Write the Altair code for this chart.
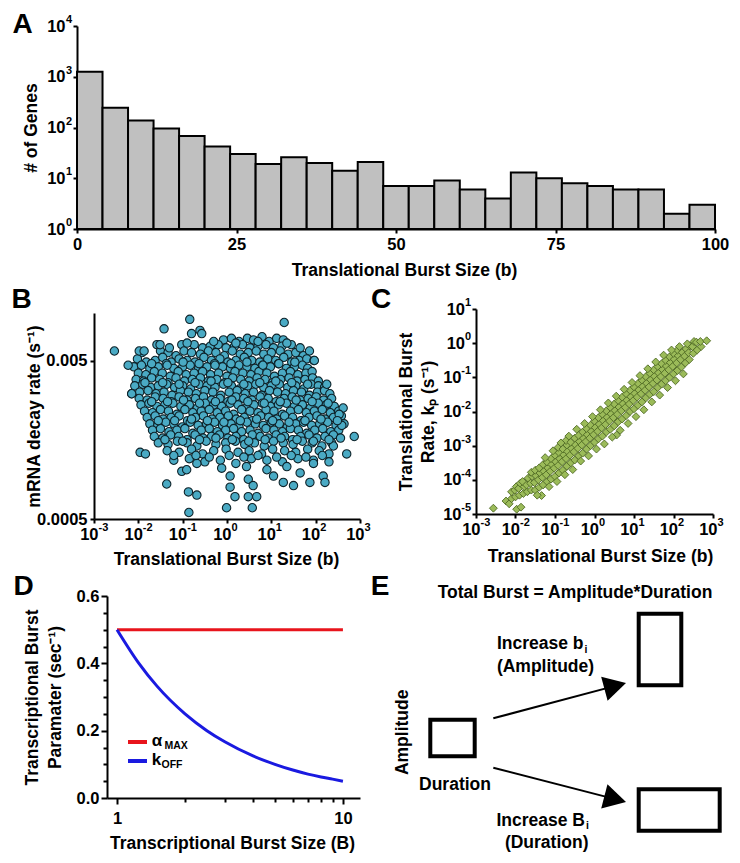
import altair as alt
import pandas as pd

W, H = 724, 847          # whole drawing; positions below are in drawing pixels
FONT = "Liberation Sans"
INK = "black"
TICK_FS = 16.5
TITLE_FS = 17.5
EXP_FS = 11

# ---------------- Panel A : histogram of translational burst size ----------------
A_BIN_START = [0, 4, 8, 12, 16, 20, 24, 28, 32, 36, 40, 44, 48, 52, 56, 60, 64, 68, 72, 76, 80, 84, 88, 92, 96]
A_BIN_END = [4, 8, 12, 16, 20, 24, 28, 32, 36, 40, 44, 48, 52, 56, 60, 64, 68, 72, 76, 80, 84, 88, 92, 96, 100]
A_COUNTS = [1250, 245, 138, 96, 68, 42, 30, 19, 26, 20, 14, 21, 7, 7, 9, 6, 4, 13, 10, 8, 7, 6, 6, 2, 3]
A_X_TICKS = [0, 25, 50, 75, 100]
A_Y_TICKS = [1, 10, 100, 1000, 10000]
A_Y_EXP = ["0", "1", "2", "3", "4"]

# ---------------- shared decade ticks ----------------
DEC_TICKS = [0.001, 0.01, 0.1, 1, 10, 100, 1000]
DEC_EXP = ["-3", "-2", "-1", "0", "1", "2", "3"]

# ---------------- Panel B : (log10 burst size, log10 mRNA decay rate) ----------------
B_Y_TICKS = [0.0005, 0.005]
B_POINTS = [
    (-0.08, -2.17), (0.10, -2.16), (0.27, -2.18), (0.46, -2.16), (0.60, -2.17), (0.79, -2.15), (0.95, -2.18), (1.12, -2.16), (1.27, -2.17),
    (-1.58, -2.20), (-1.02, -2.20), (-0.74, -2.20), (-0.55, -2.22), (-0.38, -2.21), (-0.20, -2.20), (-0.02, -2.22), (0.17, -2.21), (0.35, -2.20), (0.52, -2.22), (0.70, -2.21), (0.88, -2.20), (1.05, -2.22), (1.24, -2.21), (1.45, -2.20),
    (-1.92, -2.25), (-1.50, -2.24), (-1.33, -2.25), (-1.15, -2.27), (-0.97, -2.24), (-0.80, -2.25), (-0.60, -2.26), (-0.42, -2.24), (-0.25, -2.25), (-0.06, -2.27), (0.12, -2.24), (0.30, -2.26), (0.48, -2.25), (0.66, -2.24), (0.83, -2.26), (1.00, -2.25), (1.20, -2.24), (1.38, -2.26), (1.55, -2.25), (1.72, -2.27), (1.86, -2.24),
    (-2.02, -2.29), (-1.82, -2.31), (-1.62, -2.30), (-1.45, -2.28), (-1.26, -2.31), (-1.08, -2.29), (-0.90, -2.30), (-0.72, -2.31), (-0.52, -2.28), (-0.35, -2.30), (-0.16, -2.29), (0.02, -2.31), (0.20, -2.30), (0.39, -2.28), (0.56, -2.30), (0.74, -2.31), (0.92, -2.29), (1.10, -2.30), (1.28, -2.28), (1.46, -2.31), (1.63, -2.30), (1.80, -2.29), (1.96, -2.30),
    (-2.10, -2.34), (-1.93, -2.33), (-1.74, -2.35), (-1.55, -2.34), (-1.37, -2.32), (-1.20, -2.35), (-1.00, -2.34), (-0.83, -2.33), (-0.64, -2.35), (-0.45, -2.34), (-0.28, -2.32), (-0.10, -2.34), (0.08, -2.35), (0.27, -2.33), (0.45, -2.34), (0.63, -2.35), (0.80, -2.33), (0.98, -2.34), (1.16, -2.32), (1.34, -2.35), (1.52, -2.34), (1.70, -2.33), (1.82, -2.35),
    (-2.00, -2.38), (-1.83, -2.39), (-1.64, -2.37), (-1.46, -2.38), (-1.28, -2.40), (-1.10, -2.37), (-0.92, -2.39), (-0.74, -2.38), (-0.55, -2.37), (-0.37, -2.39), (-0.19, -2.38), (0.00, -2.40), (0.18, -2.37), (0.36, -2.38), (0.54, -2.39), (0.72, -2.37), (0.90, -2.38), (1.07, -2.40), (1.25, -2.38), (1.43, -2.37), (1.60, -2.39), (1.78, -2.38), (1.92, -2.37),
    (-2.05, -2.42), (-1.88, -2.43), (-1.70, -2.41), (-1.52, -2.42), (-1.33, -2.44), (-1.15, -2.41), (-0.96, -2.43), (-0.78, -2.42), (-0.60, -2.41), (-0.42, -2.43), (-0.23, -2.42), (-0.05, -2.44), (0.13, -2.41), (0.31, -2.42), (0.50, -2.43), (0.68, -2.41), (0.86, -2.42), (1.03, -2.44), (1.21, -2.42), (1.40, -2.41), (1.58, -2.43), (1.76, -2.42), (1.93, -2.41), (2.06, -2.43),
    (-2.08, -2.46), (-1.90, -2.45), (-1.72, -2.47), (-1.55, -2.46), (-1.36, -2.45), (-1.18, -2.47), (-1.00, -2.46), (-0.82, -2.48), (-0.63, -2.45), (-0.45, -2.46), (-0.27, -2.47), (-0.08, -2.45), (0.10, -2.46), (0.28, -2.48), (0.47, -2.46), (0.65, -2.45), (0.83, -2.47), (1.00, -2.46), (1.18, -2.45), (1.37, -2.47), (1.55, -2.46), (1.73, -2.48), (1.90, -2.45), (2.06, -2.46), (2.20, -2.47),
    (-2.15, -2.51), (-1.97, -2.50), (-1.78, -2.49), (-1.60, -2.51), (-1.42, -2.50), (-1.24, -2.52), (-1.05, -2.49), (-0.87, -2.50), (-0.69, -2.51), (-0.50, -2.49), (-0.32, -2.50), (-0.14, -2.52), (0.05, -2.50), (0.23, -2.49), (0.41, -2.51), (0.60, -2.50), (0.78, -2.52), (0.96, -2.49), (1.14, -2.50), (1.32, -2.51), (1.50, -2.49), (1.68, -2.50), (1.86, -2.52), (2.04, -2.50), (2.20, -2.49), (2.32, -2.51),
    (-1.98, -2.54), (-1.80, -2.55), (-1.62, -2.53), (-1.44, -2.54), (-1.26, -2.56), (-1.08, -2.53), (-0.90, -2.55), (-0.71, -2.54), (-0.53, -2.53), (-0.35, -2.55), (-0.16, -2.54), (0.02, -2.56), (0.20, -2.53), (0.38, -2.54), (0.56, -2.55), (0.75, -2.53), (0.93, -2.54), (1.11, -2.56), (1.29, -2.54), (1.47, -2.53), (1.65, -2.55), (1.83, -2.54), (2.01, -2.53), (2.18, -2.55), (2.36, -2.54),
    (-1.94, -2.58), (-1.76, -2.57), (-1.58, -2.59), (-1.40, -2.58), (-1.22, -2.57), (-1.04, -2.59), (-0.85, -2.58), (-0.67, -2.60), (-0.49, -2.57), (-0.30, -2.58), (-0.12, -2.59), (0.07, -2.57), (0.25, -2.58), (0.43, -2.60), (0.61, -2.58), (0.80, -2.57), (0.98, -2.59), (1.16, -2.58), (1.34, -2.57), (1.52, -2.59), (1.70, -2.58), (1.88, -2.60), (2.06, -2.57), (2.24, -2.58), (2.42, -2.59),
    (-1.86, -2.62), (-1.68, -2.63), (-1.50, -2.61), (-1.32, -2.62), (-1.13, -2.64), (-0.95, -2.61), (-0.77, -2.63), (-0.58, -2.62), (-0.40, -2.61), (-0.22, -2.63), (-0.03, -2.62), (0.15, -2.64), (0.33, -2.61), (0.52, -2.62), (0.70, -2.63), (0.88, -2.61), (1.06, -2.62), (1.25, -2.64), (1.43, -2.62), (1.61, -2.61), (1.79, -2.63), (1.97, -2.62), (2.15, -2.61), (2.33, -2.63), (2.52, -2.62),
    (-1.80, -2.66), (-1.62, -2.65), (-1.44, -2.67), (-1.26, -2.66), (-1.08, -2.65), (-0.89, -2.68), (-0.71, -2.66), (-0.53, -2.65), (-0.34, -2.67), (-0.16, -2.66), (0.03, -2.65), (0.21, -2.67), (0.39, -2.66), (0.57, -2.68), (0.76, -2.65), (0.94, -2.66), (1.12, -2.67), (1.30, -2.65), (1.48, -2.66), (1.67, -2.68), (1.85, -2.66), (2.03, -2.65), (2.21, -2.67), (2.40, -2.66), (2.58, -2.65),
    (-1.74, -2.70), (-1.56, -2.71), (-1.38, -2.69), (-1.20, -2.70), (-1.01, -2.72), (-0.83, -2.69), (-0.65, -2.71), (-0.46, -2.70), (-0.28, -2.69), (-0.10, -2.71), (0.09, -2.70), (0.27, -2.72), (0.45, -2.69), (0.64, -2.70), (0.82, -2.71), (1.00, -2.69), (1.18, -2.70), (1.36, -2.72), (1.55, -2.70), (1.73, -2.69), (1.91, -2.71), (2.09, -2.70), (2.27, -2.69), (2.46, -2.71), (2.64, -2.70),
    (-1.68, -2.74), (-1.50, -2.73), (-1.31, -2.75), (-1.13, -2.74), (-0.95, -2.73), (-0.77, -2.76), (-0.58, -2.74), (-0.40, -2.73), (-0.22, -2.75), (-0.03, -2.74), (0.15, -2.73), (0.33, -2.75), (0.52, -2.74), (0.70, -2.76), (0.88, -2.73), (1.06, -2.74), (1.25, -2.75), (1.43, -2.73), (1.61, -2.74), (1.80, -2.76), (1.98, -2.74), (2.16, -2.73), (2.34, -2.75), (2.52, -2.74),
    (-1.64, -2.78), (-1.45, -2.79), (-1.27, -2.77), (-1.09, -2.78), (-0.90, -2.80), (-0.72, -2.77), (-0.54, -2.79), (-0.35, -2.78), (-0.17, -2.77), (0.02, -2.79), (0.20, -2.78), (0.38, -2.80), (0.57, -2.77), (0.75, -2.78), (0.93, -2.79), (1.11, -2.77), (1.30, -2.78), (1.48, -2.80), (1.66, -2.78), (1.85, -2.77), (2.03, -2.79), (2.21, -2.78), (2.40, -2.77), (2.56, -2.79),
    (-1.55, -2.82), (-1.33, -2.83), (-1.12, -2.81), (-0.90, -2.82), (-0.68, -2.84), (-0.47, -2.81), (-0.25, -2.83), (-0.03, -2.82), (0.19, -2.81), (0.40, -2.83), (0.62, -2.82), (0.84, -2.84), (1.05, -2.81), (1.27, -2.82), (1.49, -2.83), (1.70, -2.81), (1.92, -2.82), (2.14, -2.84), (2.36, -2.82),
    (-1.35, -2.87), (-1.08, -2.88), (-0.80, -2.86), (-0.55, -2.89), (-0.30, -2.87), (-0.02, -2.86), (0.25, -2.88), (0.50, -2.87), (0.78, -2.89), (1.03, -2.86), (1.30, -2.87), (1.55, -2.88), (1.82, -2.86), (2.08, -2.87), (2.30, -2.89),
    (-1.20, -2.93), (-0.85, -2.92), (-0.50, -2.94), (-0.15, -2.93), (0.20, -2.95), (0.55, -2.92), (0.90, -2.93), (1.25, -2.94), (1.60, -2.92), (1.95, -2.93), (2.30, -2.94),
    (-0.84, -2.04), (1.29, -2.06), (-1.42, -2.10), (-0.80, -2.13), (-0.61, -2.11), (-0.57, -2.13), (-2.54, -2.24), (-2.23, -2.33), (-1.98, -2.24), (-1.87, -2.24),
    (-2.15, -2.51), (-1.51, -2.20), (1.97, -2.30), (2.25, -2.45), (2.62, -2.60), (2.53, -2.64), (2.87, -2.78), (2.59, -2.71), (2.70, -2.89), (-1.96, -2.88), (-1.84, -2.89), (2.40, -2.84),
    (-1.02, -3.00), (-0.91, -2.99), (-0.68, -2.95), (-0.12, -2.98), (0.07, -3.03), (0.44, -2.97), (0.90, -2.99), (1.35, -2.97), (1.65, -3.01), (1.95, -2.95), (2.17, -3.03), (2.21, -3.07),
    (-1.36, -3.08), (-0.87, -3.13), (-0.68, -3.15), (0.07, -3.10), (0.48, -3.05), (0.59, -3.09), (0.18, -3.16), (0.48, -3.16), (0.67, -3.16), (-0.01, -3.23), (0.57, -3.23), (-0.86, -3.26),
    (1.27, -3.07), (1.50, -3.09), (1.87, -3.07), (1.05, -3.03),
    # extra points filling the crowded core
    (-1.70, -2.32), (-1.35, -2.33), (-0.99, -2.31), (-0.63, -2.32), (-0.27, -2.33), (0.09, -2.32), (0.45, -2.31), (0.81, -2.33), (1.17, -2.32), (1.53, -2.31),
    (-1.85, -2.44), (-1.45, -2.44), (-1.08, -2.45), (-0.72, -2.44), (-0.36, -2.43), (0.02, -2.44), (0.38, -2.45), (0.74, -2.44), (1.10, -2.43), (1.46, -2.44), (1.82, -2.45),
    (-1.70, -2.56), (-1.34, -2.56), (-0.98, -2.55), (-0.62, -2.57), (-0.26, -2.56), (0.11, -2.55), (0.47, -2.56), (0.84, -2.57), (1.20, -2.56), (1.56, -2.55), (1.92, -2.56), (2.28, -2.57),
    (-1.55, -2.68), (-1.18, -2.68), (-0.80, -2.67), (-0.44, -2.68), (-0.07, -2.69), (0.30, -2.68), (0.67, -2.67), (1.03, -2.68), (1.40, -2.69), (1.76, -2.68), (2.12, -2.67), (2.49, -2.68),
    (-1.40, -2.80), (-1.00, -2.81), (-0.62, -2.80), (-0.25, -2.79), (0.12, -2.80), (0.49, -2.81), (0.86, -2.80), (1.22, -2.79), (1.58, -2.80), (1.95, -2.81), (2.30, -2.80),
    (-1.20, -2.90), (-0.70, -2.90), (-0.40, -2.91), (0.05, -2.90), (0.38, -2.91), (0.70, -2.90), (1.12, -2.91), (1.45, -2.90), (1.78, -2.91), (2.15, -2.90),
    (-1.30, -2.22), (-0.90, -2.19), (-0.30, -2.18), (0.20, -2.19), (0.70, -2.18), (1.35, -2.19), (1.65, -2.22),
]

# ---------------- Panel C : (log10 burst size, log10 translational burst rate) ----------------
C_Y_TICKS = [1e-5, 1e-4, 1e-3, 1e-2, 1e-1, 1, 10]
C_Y_EXP = ["-5", "-4", "-3", "-2", "-1", "0", "1"]
C_POINTS = [
    (-2.56, -4.83), (-2.24, -4.62), (-2.16, -4.70), (-1.97, -4.86), (-1.86, -4.80), (-1.34, -4.46), (0.56, -2.69),
    (-2.10, -4.55), (-2.10, -4.35), (-2.00, -4.50), (-2.02, -4.30), (-1.98, -4.20),
    (-1.90, -4.45), (-1.92, -4.25), (-1.88, -4.10), (-1.80, -4.40), (-1.78, -4.20), (-1.82, -4.05),
    (-1.70, -4.35), (-1.72, -4.15), (-1.68, -3.95), (-1.60, -4.30), (-1.62, -4.10), (-1.58, -3.90), (-1.60, -3.78),
    (-1.50, -4.30), (-1.52, -4.08), (-1.48, -3.88), (-1.50, -3.72), (-1.40, -4.22), (-1.42, -4.00), (-1.38, -3.80), (-1.40, -3.65),
    (-1.30, -4.15), (-1.32, -3.93), (-1.28, -3.75), (-1.30, -3.55), (-1.20, -4.05), (-1.22, -3.85), (-1.18, -3.65), (-1.20, -3.48),
    (-1.10, -3.98), (-1.12, -3.75), (-1.08, -3.55), (-1.10, -3.38), (-1.00, -3.90), (-1.02, -3.66), (-0.98, -3.47), (-1.00, -3.28),
    (-0.90, -3.80), (-0.92, -3.58), (-0.88, -3.38), (-0.90, -3.20), (-0.92, -3.05), (-0.80, -3.72), (-0.82, -3.47), (-0.78, -3.27), (-0.80, -3.10),
    (-0.70, -3.60), (-0.72, -3.38), (-0.68, -3.17), (-0.70, -2.98), (-0.72, -2.85), (-0.60, -3.50), (-0.62, -3.28), (-0.58, -3.08), (-0.60, -2.90),
    (-0.50, -3.42), (-0.52, -3.18), (-0.48, -2.98), (-0.50, -2.78), (-0.40, -3.30), (-0.42, -3.08), (-0.38, -2.88), (-0.40, -2.70),
    (-0.30, -3.22), (-0.32, -2.98), (-0.28, -2.78), (-0.30, -2.60), (-0.20, -3.10), (-0.22, -2.88), (-0.18, -2.68), (-0.20, -2.50),
    (-0.10, -3.00), (-0.12, -2.78), (-0.08, -2.58), (-0.10, -2.40), (0.00, -2.90), (-0.02, -2.68), (0.02, -2.47), (0.00, -2.28),
    (0.10, -2.80), (0.08, -2.58), (0.12, -2.37), (0.10, -2.18), (0.20, -2.72), (0.18, -2.48), (0.22, -2.27), (0.20, -2.08),
    (0.30, -2.60), (0.28, -2.38), (0.32, -2.17), (0.30, -1.98), (0.40, -2.52), (0.38, -2.28), (0.42, -2.07), (0.40, -1.88),
    (0.50, -2.42), (0.48, -2.18), (0.52, -1.97), (0.50, -1.78), (0.60, -2.30), (0.58, -2.08), (0.62, -1.87), (0.60, -1.68),
    (0.70, -2.22), (0.68, -1.98), (0.72, -1.77), (0.70, -1.58), (0.80, -2.12), (0.78, -1.88), (0.82, -1.67), (0.80, -1.48),
    (0.90, -2.00), (0.88, -1.78), (0.92, -1.57), (0.90, -1.38), (1.00, -1.92), (0.98, -1.68), (1.02, -1.47), (1.00, -1.28),
    (1.10, -1.82), (1.08, -1.58), (1.12, -1.37), (1.10, -1.18), (1.20, -1.72), (1.18, -1.48), (1.22, -1.27), (1.20, -1.08),
    (1.30, -1.60), (1.28, -1.38), (1.32, -1.17), (1.30, -0.98), (1.40, -1.50), (1.38, -1.28), (1.42, -1.07), (1.40, -0.88),
    (1.50, -1.42), (1.48, -1.18), (1.52, -0.97), (1.50, -0.78), (1.60, -1.30), (1.58, -1.08), (1.62, -0.87), (1.60, -0.68),
    (1.70, -1.20), (1.68, -0.98), (1.72, -0.77), (1.70, -0.60), (1.80, -1.10), (1.78, -0.88), (1.82, -0.67), (1.80, -0.50),
    (1.90, -1.00), (1.88, -0.78), (1.92, -0.57), (1.90, -0.40), (2.00, -0.90), (1.98, -0.68), (2.02, -0.47), (2.00, -0.30),
    (2.10, -0.80), (2.08, -0.58), (2.12, -0.37), (2.10, -0.20), (2.20, -0.70), (2.18, -0.48), (2.22, -0.27),
    (2.30, -0.58), (2.28, -0.38), (2.32, -0.17), (2.40, -0.48), (2.38, -0.28), (2.42, -0.08),
    (2.50, -0.30), (2.48, -0.10), (2.52, 0.05), (2.60, -0.20), (2.58, 0.03), (2.70, -0.10), (2.68, 0.05), (2.84, 0.07),
    # looser points below and above the band
    (-1.45, -4.45), (-1.15, -4.20), (-0.95, -4.05), (-0.75, -3.85), (-0.55, -3.70), (-0.35, -3.45), (-0.15, -3.30),
    (0.05, -3.10), (0.25, -2.95), (0.45, -2.75), (0.65, -2.55), (0.85, -2.35), (1.05, -2.15), (1.25, -1.95),
    (1.45, -1.72), (1.65, -1.52), (1.85, -1.30), (2.05, -1.10), (2.25, -0.90),
    (-1.25, -3.35), (-1.05, -3.15), (-0.85, -2.92), (-0.65, -2.72), (-0.45, -2.52), (-0.25, -2.35), (-0.05, -2.15),
    (0.15, -1.95), (0.35, -1.75), (0.55, -1.55), (0.75, -1.35), (0.95, -1.15), (1.15, -0.95), (1.35, -0.75),
    (1.55, -0.55), (1.75, -0.35), (1.95, -0.20), (2.15, -0.10), (2.35, -0.02),
]

# ---------------- Panel D : transcriptional burst parameters ----------------
D_SIZE = [1, 1.25, 1.5, 2, 2.5, 3, 4, 5, 6, 7, 8, 9, 10]
D_KOFF = [0.5, 0.4, 0.333, 0.25, 0.2, 0.167, 0.125, 0.1, 0.083, 0.071, 0.0625, 0.056, 0.05]
D_ALPHA_SIZE = [1, 10]
D_ALPHA = [0.5, 0.5]
D_Y_TICKS = [0, 0.05, 0.1, 0.15, 0.2, 0.25, 0.3, 0.35, 0.4, 0.45, 0.5, 0.55, 0.6]
D_X_TICKS = [1, 2, 3, 4, 5, 6, 7, 8, 9, 10]

# ---------------- scales (pixel ranges inside the drawing) ----------------
SA_X = alt.Scale(domain=[0, 100], range=[69, 707], nice=False, zero=False)
SA_Y = alt.Scale(type="log", domain=[1, 10000], range=[221, 18], nice=False)
SB_X = alt.Scale(type="log", domain=[0.001, 1000], range=[86, 352], nice=False)
SB_Y = alt.Scale(type="log", domain=[0.0005, 0.01], range=[511, 305], nice=False)
SC_X = alt.Scale(type="log", domain=[0.001, 1000], range=[468, 705], nice=False)
SC_Y = alt.Scale(type="log", domain=[1e-5, 10], range=[506, 301], nice=False)
SD_X = alt.Scale(type="log", domain=[0.903, 11.9], range=[99, 352], nice=False)
SD_Y = alt.Scale(domain=[0, 0.6], range=[790, 588], nice=False, zero=False)


def axis(orient, offset, values, title, **kw):
    d = dict(orient=orient, offset=offset, values=values, title=title, grid=False,
             domainColor=INK, domainWidth=2, tickColor=INK, tickWidth=2, tickSize=4,
             labelFont=FONT, labelFontSize=TICK_FS, labelFontWeight="bold", labelColor=INK,
             labelPadding=3, labelFlush=False, labelOverlap=False,
             titleFont=FONT, titleFontSize=TITLE_FS, titleFontWeight="bold", titleColor=INK,
             titleBaseline="middle")
    d.update(kw)
    return alt.Axis(**d)


def exponents(values, exps, channel, scale, pos, align, dx=0, dy=0):
    """superscript part of the 10^n tick labels, placed with the axis' own scale"""
    df = pd.DataFrame({"v": values, "e": exps})
    m = alt.Chart(df).mark_text(font=FONT, fontWeight="bold", fontSize=EXP_FS, color=INK,
                                align=align, baseline="middle", dx=dx, dy=dy)
    if channel == "x":
        return m.encode(x=alt.X("v:Q", scale=scale, axis=None), y=alt.value(pos), text="e:N")
    return m.encode(y=alt.Y("v:Q", scale=scale, axis=None), x=alt.value(pos), text="e:N")


NEG = "datum.value < 0.5"

# ---------- A ----------
dfA = pd.DataFrame({"start": A_BIN_START, "end": A_BIN_END, "count": A_COUNTS, "base": 1})
chartA = alt.Chart(dfA).mark_bar(fill="#c0c0c0", stroke=INK, strokeWidth=2).encode(
    x=alt.X("start:Q", scale=SA_X,
            axis=axis("bottom", 221 - H, A_X_TICKS, "Translational Burst Size (b)", titleX=396, titleY=41)),
    x2="end:Q",
    y=alt.Y("count:Q", scale=SA_Y,
            axis=axis("left", -69, A_Y_TICKS, "# of Genes", labelExpr="'10'", labelPadding=8, titleX=-46)),
    y2="base:Q",
)
expA = exponents(A_Y_TICKS, A_Y_EXP, "y", SA_Y, 64, "right", dy=-6)

# ---------- B ----------
dfB = pd.DataFrame({"b": [10 ** p[0] for p in B_POINTS], "r": [10 ** p[1] for p in B_POINTS]})
chartB = alt.Chart(dfB).mark_circle(size=70, color="#4aaac4", stroke="#0d2229", strokeWidth=1.1, opacity=1).encode(
    x=alt.X("b:Q", scale=SB_X,
            axis=axis("bottom", 511 - H, DEC_TICKS, "Translational Burst Size (b)",
                      labelExpr="'10'", labelAlign="right", labelOffset=4, titleX=218, titleY=40)),
    y=alt.Y("r:Q", scale=SB_Y,
            axis=axis("left", -86, B_Y_TICKS, "mRNA decay rate (s⁻¹)",
                      labelExpr="datum.value < 0.001 ? '0.0005' : '0.005'", titleX=-60)),
)
expBx = exponents(DEC_TICKS, DEC_EXP, "x", SB_X, 511 + 9, "left", dx=4.5)

# ---------- C ----------
dfC = pd.DataFrame({"b": [10 ** p[0] for p in C_POINTS], "k": [10 ** p[1] for p in C_POINTS]})
chartC = alt.Chart(dfC).mark_point(shape="diamond", filled=True, size=62, fill="#9bbb59",
                                   stroke="#4f6a24", strokeWidth=0.9, opacity=1).encode(
    x=alt.X("b:Q", scale=SC_X,
            axis=axis("bottom", 506 - H, DEC_TICKS, "Translational Burst Size (b)",
                      labelExpr="'10'", labelAlign="right", labelOffset=4, titleX=592, titleY=42)),
    y=alt.Y("k:Q", scale=SC_Y,
            axis=axis("left", -468, C_Y_TICKS, ["Translational Burst", "Rate, kₚ (s⁻¹)"],
                      labelExpr="'10'",
                      labelPadding={"condition": {"test": NEG, "value": 11}, "value": 7.5},
                      titleX=-69.5, titleLineHeight=22)),
)
expCx = exponents(DEC_TICKS, DEC_EXP, "x", SC_X, 506 + 9, "left", dx=4.5)
expCy = exponents(C_Y_TICKS, C_Y_EXP, "y", SC_Y, 463, "right", dy=-6)

# ---------- D ----------
dfD = pd.DataFrame({
    "B": D_ALPHA_SIZE + D_SIZE,
    "v": D_ALPHA + D_KOFF,
    "s": ["alpha"] * len(D_ALPHA) + ["koff"] * len(D_KOFF),
})
major_y = "abs(datum.value*5 - round(datum.value*5)) < 0.01"
major_x = "datum.value == 1 || datum.value == 10"
chartD = alt.Chart(dfD).mark_line(strokeWidth=3, interpolate="monotone").encode(
    x=alt.X("B:Q", scale=SD_X,
            axis=axis("bottom", 790 - H, D_X_TICKS, "Transcriptional Burst Size (B)",
                      labelExpr=major_x + " ? format(datum.value, 'd') : ''",
                      tickSize={"condition": {"test": major_x, "value": 6}, "value": 4},
                      labelPadding=6, titleX=224, titleY=45)),
    y=alt.Y("v:Q", scale=SD_Y,
            axis=axis("left", -99, D_Y_TICKS, ["Transcriptional Burst", "Paramater (sec⁻¹)"],
                      labelExpr=major_y + " ? format(datum.value, '.1f') : ''",
                      tickSize={"condition": {"test": major_y, "value": 6}, "value": 4},
                      titleX=-75, titleLineHeight=23, labelPadding=2)),
    color=alt.Color("s:N", scale=alt.Scale(domain=["alpha", "koff"], range=["#e8141c", "#1a1ae0"]), legend=None),
    detail="s:N",
)

# ---------- manual legend of D and diagram E (pixel positions) ----------
NOX = dict(scale=None, axis=None)
leg = pd.DataFrame({"x": [120, 120], "x2": [139, 139], "y": [734, 753], "c": ["#e8141c", "#1a1ae0"]})
legend_lines = alt.Chart(leg).mark_rule(strokeWidth=4).encode(
    x=alt.X("x:Q", **NOX), x2="x2:Q", y=alt.Y("y:Q", **NOX), color=alt.Color("c:N", scale=None))

rects = pd.DataFrame({"x": [422.3, 630.7, 630.7], "x2": [466.7, 673.3, 711.7],
                      "y": [711.7, 605.7, 781.3], "y2": [748.3, 677.3, 822.7]})
chartRects = alt.Chart(rects).mark_rect(fill="transparent", stroke=INK, strokeWidth=4).encode(
    x=alt.X("x:Q", **NOX), x2="x2:Q", y=alt.Y("y:Q", **NOX), y2="y2:Q")

arrows = pd.DataFrame({"x": [485.3, 485.3], "y": [710.3, 759.7], "x2": [612, 612], "y2": [676.6, 792.4],
                       "tx": [618, 618], "ty": [675.0, 794.0], "ang": [345.1, 14.5]})
shafts = alt.Chart(arrows).mark_rule(strokeWidth=2, color=INK).encode(
    x=alt.X("x:Q", **NOX), y=alt.Y("y:Q", **NOX), x2="x2:Q", y2="y2:Q")
heads = alt.Chart(arrows).mark_point(shape="M0,0L-1,-0.56L-1,0.56Z", filled=True, color=INK,
                                     size=2000, opacity=1, strokeWidth=0).encode(
    x=alt.X("tx:Q", **NOX), y=alt.Y("ty:Q", **NOX), angle=alt.Angle("ang:Q", scale=None))

letters = pd.DataFrame({"t": ["A", "B", "C", "D", "E"], "x": [14.5, 13.5, 373, 15.5, 372],
                        "y": [25, 300, 300, 587, 587]})
chartLetters = alt.Chart(letters).mark_text(font=FONT, fontWeight="bold", fontSize=28, color=INK,
                                            align="center", baseline="alphabetic").encode(
    x=alt.X("x:Q", **NOX), y=alt.Y("y:Q", **NOX), text="t:N")

ctext = pd.DataFrame({
    "t": ["Total Burst = Amplitude*Duration", "(Amplitude)", "(Duration)", "Duration"],
    "x": [567, 537.5, 538.7, 447], "y": [585.3, 658.7, 834.5, 777]})
chartCText = alt.Chart(ctext).mark_text(font=FONT, fontWeight="bold", fontSize=17.5, color=INK,
                                        align="center", baseline="middle").encode(
    x=alt.X("x:Q", **NOX), y=alt.Y("y:Q", **NOX), text="t:N")

rtext = pd.DataFrame({"t": ["Increase b", "Increase B"], "x": [575.5, 577], "y": [636, 813]})
chartRText = alt.Chart(rtext).mark_text(font=FONT, fontWeight="bold", fontSize=17.5, color=INK,
                                        align="right", baseline="middle").encode(
    x=alt.X("x:Q", **NOX), y=alt.Y("y:Q", **NOX), text="t:N")

ltext = pd.DataFrame({"t": ["α", "k"], "x": [143.7, 143.7], "y": [732.5, 752]})
chartLText = alt.Chart(ltext).mark_text(font=FONT, fontWeight="bold", fontSize=17, color=INK,
                                        align="left", baseline="middle").encode(
    x=alt.X("x:Q", **NOX), y=alt.Y("y:Q", **NOX), text="t:N")

subs = pd.DataFrame({"t": ["i", "i", "MAX", "OFF"], "x": [576.5, 578, 156.5, 153.5],
                     "y": [641.5, 818, 738, 757]})
chartSubs = alt.Chart(subs).mark_text(font=FONT, fontWeight="bold", fontSize=10.5, color=INK,
                                      align="left", baseline="middle").encode(
    x=alt.X("x:Q", **NOX), y=alt.Y("y:Q", **NOX), text="t:N")

rot = pd.DataFrame({"t": ["Amplitude"], "x": [395.3], "y": [724.3]})
chartRot = alt.Chart(rot).mark_text(font=FONT, fontWeight="bold", fontSize=17.5, color=INK,
                                    align="center", baseline="middle", angle=270).encode(
    x=alt.X("x:Q", **NOX), y=alt.Y("y:Q", **NOX), text="t:N")

chart = alt.layer(
    chartA, expA, chartB, expBx, chartC, expCx, expCy, chartD, legend_lines, chartRects, shafts, heads,
    chartLetters, chartCText, chartRText, chartLText, chartSubs, chartRot,
).resolve_scale(
    x="independent", y="independent", color="independent"
).properties(
    width=W, height=H, padding=0, autosize="none"
).configure_view(stroke=None)

chart.save("out.html", embed_options={"renderer": "svg", "actions": False})
